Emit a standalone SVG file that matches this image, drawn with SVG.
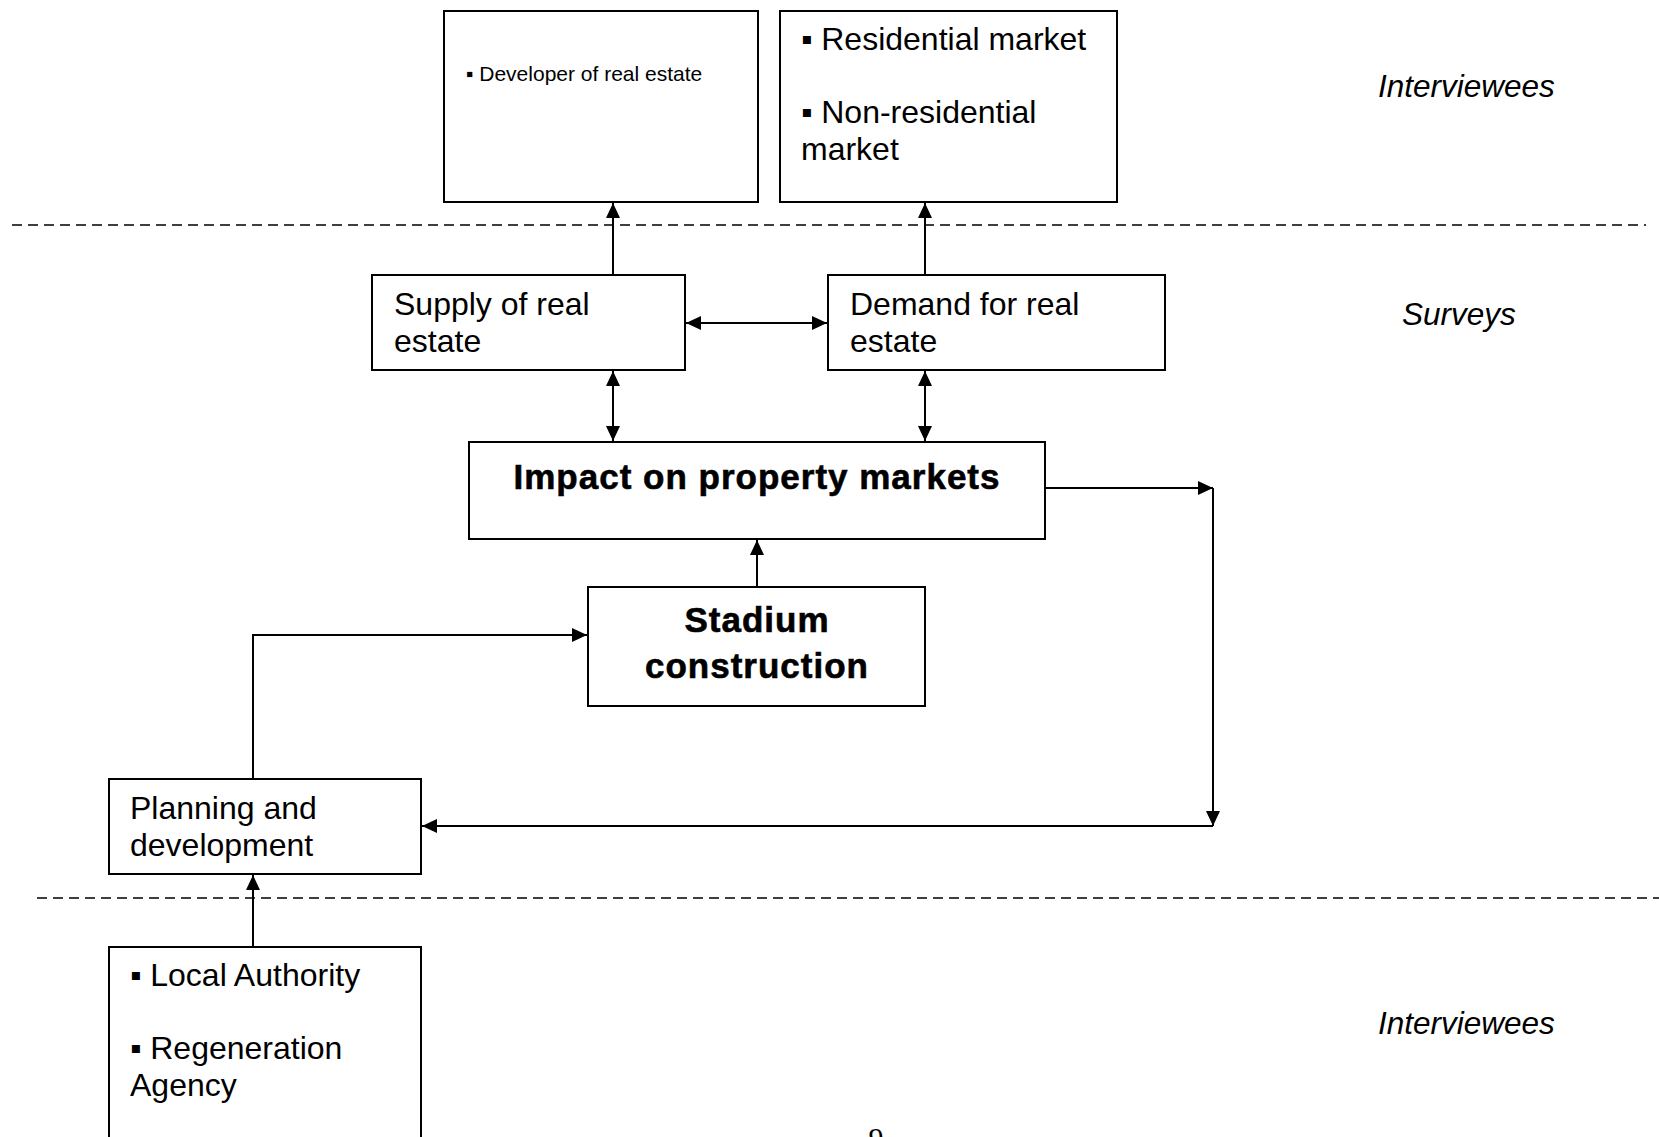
<svg xmlns="http://www.w3.org/2000/svg" width="1659" height="1137" viewBox="0 0 1659 1137">
<style>
.box{fill:#fff;stroke:#000;stroke-width:2}
.t{font-family:"Liberation Sans",Arial,sans-serif;font-size:32px;fill:#000}
.s{font-family:"Liberation Sans",Arial,sans-serif;font-size:21px;fill:#000}
.b{font-family:"Liberation Sans",Arial,sans-serif;font-size:35px;font-weight:bold;fill:#000;stroke:#000;stroke-width:0.6;text-anchor:middle;letter-spacing:1px}
.i{font-family:"Liberation Sans",Arial,sans-serif;font-size:31.5px;font-style:italic;fill:#000}
.c{fill:none;stroke:#000;stroke-width:2}
.d{fill:none;stroke:#000;stroke-width:1.6;stroke-dasharray:10 6}
</style>
<defs>
<marker id="ah" markerUnits="userSpaceOnUse" markerWidth="16" markerHeight="14" refX="15" refY="7" orient="auto-start-reverse">
<path d="M0,0 L15,7 L0,14 z" fill="#000"/>
</marker>
</defs>
<rect width="1659" height="1137" fill="#fff"/>
<g id="dividers">
<line class="d" x1="12" y1="225" x2="1646" y2="225"/>
<line class="d" x1="37" y1="898" x2="1659" y2="898"/>
</g>
<g id="connectors">
<line class="c" x1="613" y1="274" x2="613" y2="203" marker-end="url(#ah)"/>
<line class="c" x1="925" y1="274" x2="925" y2="203" marker-end="url(#ah)"/>
<line class="c" x1="686" y1="323" x2="827" y2="323" marker-start="url(#ah)" marker-end="url(#ah)"/>
<line class="c" x1="613" y1="371" x2="613" y2="441" marker-start="url(#ah)" marker-end="url(#ah)"/>
<line class="c" x1="925" y1="371" x2="925" y2="441" marker-start="url(#ah)" marker-end="url(#ah)"/>
<line class="c" x1="757" y1="586" x2="757" y2="540" marker-end="url(#ah)"/>
<line class="c" x1="1045" y1="488" x2="1213" y2="488" marker-end="url(#ah)"/>
<line class="c" x1="1213" y1="488" x2="1213" y2="826" marker-end="url(#ah)"/>
<line class="c" x1="1213" y1="826" x2="422" y2="826" marker-end="url(#ah)"/>
<polyline class="c" points="253,779 253,635 587,635" marker-end="url(#ah)"/>
<line class="c" x1="253" y1="947" x2="253" y2="875" marker-end="url(#ah)"/>
</g>
<g id="developer">
<rect class="box" x="444" y="11" width="314" height="191"/>
<text class="s" x="466" y="81">▪ Developer of real estate</text>
</g>
<g id="markets">
<rect class="box" x="780" y="11" width="337" height="191"/>
<text class="t" x="801" y="50">▪ Residential market</text>
<text class="t" x="801" y="123">▪ Non-residential</text>
<text class="t" x="801" y="160">market</text>
</g>
<g id="supply">
<rect class="box" x="372" y="275" width="313" height="95"/>
<text class="t" x="394" y="315">Supply of real</text>
<text class="t" x="394" y="352">estate</text>
</g>
<g id="demand">
<rect class="box" x="828" y="275" width="337" height="95"/>
<text class="t" x="850" y="315">Demand for real</text>
<text class="t" x="850" y="352">estate</text>
</g>
<g id="impact">
<rect class="box" x="469" y="442" width="576" height="97"/>
<text class="b" x="757" y="489">Impact on property markets</text>
</g>
<g id="stadium">
<rect class="box" x="588" y="587" width="337" height="119"/>
<text class="b" x="757" y="632">Stadium</text>
<text class="b" x="757" y="678">construction</text>
</g>
<g id="planning">
<rect class="box" x="109" y="779" width="312" height="95"/>
<text class="t" x="130" y="819">Planning and</text>
<text class="t" x="130" y="856">development</text>
</g>
<g id="authorities">
<rect class="box" x="109" y="947" width="312" height="210"/>
<text class="t" x="130" y="986">▪ Local Authority</text>
<text class="t" x="130" y="1059">▪ Regeneration</text>
<text class="t" x="130" y="1096">Agency</text>
</g>
<g id="labels">
<text class="i" x="1378" y="97">Interviewees</text>
<text class="i" x="1402" y="325">Surveys</text>
<text class="i" x="1378" y="1034">Interviewees</text>
<text x="876" y="1148" font-family="Liberation Serif,serif" font-size="30" text-anchor="middle">9</text>
</g>
</svg>
